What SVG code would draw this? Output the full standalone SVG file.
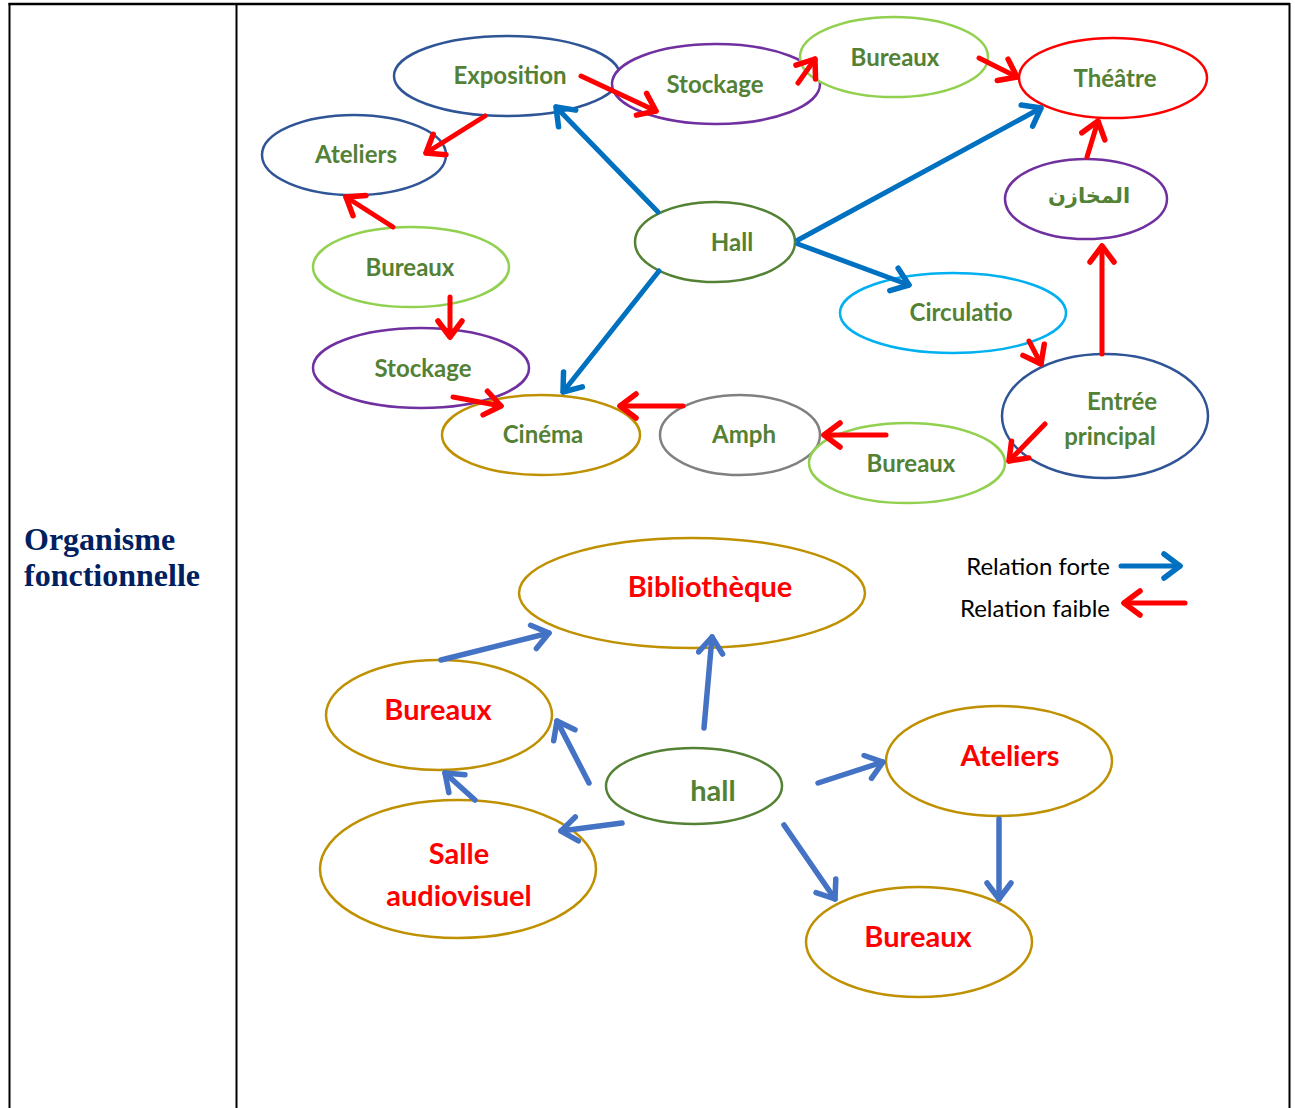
<svg xmlns="http://www.w3.org/2000/svg" width="1295" height="1108" viewBox="0 0 1295 1108">
  <style>
    .node ellipse { fill: #ffffff; stroke-width: 2.5; }
    .lbl { font-family: Lato, "Liberation Sans", sans-serif; font-weight: bold; text-anchor: middle; }
    .g { fill: #538135; font-size: 24px; }
    .r { fill: #ff0000; font-size: 29px; }
    .ar { font-family: "DejaVu Sans", "Noto Sans", sans-serif; font-weight: bold; fill: #538135; font-size: 21px; text-anchor: middle; }
    .legend { font-family: Lato, "Liberation Sans", sans-serif; font-size: 24px; fill: #000000; text-anchor: end; }
    .title { font-family: "Liberation Serif", serif; font-weight: bold; font-size: 32px; fill: #002060; }
    .weak { stroke: #ff0000; stroke-width: 5; fill: none; stroke-linecap: round; marker-end: url(#headRed); }
    .strong { stroke: #0070c0; stroke-width: 5; fill: none; stroke-linecap: round; marker-end: url(#headBlue); }
    .strong2 { stroke: #4472c4; stroke-width: 5.5; fill: none; stroke-linecap: round; marker-end: url(#headBlue2); }
    .navy { stroke: #2f5597; }
    .purple { stroke: #7030a0; }
    .lgreen { stroke: #92d050; }
    .red { stroke: #ff0000; }
    .dgreen { stroke: #548235; }
    .cyan { stroke: #00b0f0; }
    .gold { stroke: #bf9000; }
    .grey { stroke: #808080; }
  </style>
  <defs>
    <marker id="headRed" markerUnits="userSpaceOnUse" viewBox="-20 -15 24 30" refX="0" refY="0" markerWidth="24" markerHeight="30" orient="auto">
      <path d="M-16,-12 L0,0 L-16,12" fill="none" stroke="#ff0000" stroke-width="5.5" stroke-linecap="round" stroke-linejoin="round"/>
    </marker>
    <marker id="headBlue" markerUnits="userSpaceOnUse" viewBox="-20 -15 24 30" refX="0" refY="0" markerWidth="24" markerHeight="30" orient="auto">
      <path d="M-16,-12 L0,0 L-16,12" fill="none" stroke="#0070c0" stroke-width="5.5" stroke-linecap="round" stroke-linejoin="round"/>
    </marker>
    <marker id="headBlue2" markerUnits="userSpaceOnUse" viewBox="-20 -15 24 30" refX="0" refY="0" markerWidth="24" markerHeight="30" orient="auto">
      <path d="M-16,-12 L0,0 L-16,12" fill="none" stroke="#4472c4" stroke-width="5.5" stroke-linecap="round" stroke-linejoin="round"/>
    </marker>
  </defs>

  <rect width="1295" height="1108" fill="#ffffff"/>

  <!-- table frame -->
  <g id="table" stroke="#000000" fill="none">
    <line x1="8.5" y1="4" x2="1290" y2="4" stroke-width="2.5"/>
    <line x1="9.5" y1="3" x2="9.5" y2="1108" stroke-width="2"/>
    <line x1="236.5" y1="4" x2="236.5" y2="1108" stroke-width="2"/>
    <line x1="1289.5" y1="3" x2="1289.5" y2="1108" stroke-width="2"/>
  </g>
  <g id="title">
    <text class="title" x="24" y="550">Organisme</text>
    <text class="title" x="24" y="586">fonctionnelle</text>
  </g>

  <!-- upper scheme: nodes -->
  <g id="n-exposition" class="node"><ellipse class="navy" cx="507" cy="76" rx="113" ry="40"/><text class="lbl g" x="510" y="84">Exposition</text></g>
  <g id="n-stockage1" class="node"><ellipse class="purple" cx="716" cy="84" rx="104" ry="40"/><text class="lbl g" x="715" y="93">Stockage</text></g>
  <g id="n-bureaux1" class="node"><ellipse class="lgreen" cx="894" cy="57" rx="94" ry="40"/><text class="lbl g" x="895" y="66">Bureaux</text></g>
  <g id="n-theatre" class="node"><ellipse class="red" cx="1113" cy="78" rx="94" ry="40"/><text class="lbl g" x="1115" y="87">Théâtre</text></g>
  <g id="n-ateliers1" class="node"><ellipse class="navy" cx="354" cy="155" rx="92" ry="40"/><text class="lbl g" x="356" y="163">Ateliers</text></g>
  <g id="n-hall1" class="node"><ellipse class="dgreen" cx="715" cy="242" rx="80" ry="40"/><text class="lbl g" x="732" y="251">Hall</text></g>
  <g id="n-makhazin" class="node"><ellipse class="purple" cx="1086" cy="199" rx="81" ry="40"/><text class="ar" x="1089" y="203">المخازن</text></g>
  <g id="n-bureaux2" class="node"><ellipse class="lgreen" cx="411" cy="267" rx="98" ry="40"/><text class="lbl g" x="410" y="276">Bureaux</text></g>
  <g id="n-circulation" class="node"><ellipse class="cyan" cx="953" cy="313" rx="113" ry="40"/><text class="lbl g" x="961" y="321">Circulatio</text></g>
  <g id="n-stockage2" class="node"><ellipse class="purple" cx="421" cy="368" rx="108" ry="40"/><text class="lbl g" x="423" y="377">Stockage</text></g>
  <g id="n-cinema" class="node"><ellipse class="gold" cx="541" cy="435" rx="99" ry="40"/><text class="lbl g" x="543" y="443">Cinéma</text></g>
  <g id="n-amph" class="node"><ellipse class="grey" cx="740" cy="435" rx="80" ry="40"/><text class="lbl g" x="744" y="443">Amph</text></g>
  <g id="n-bureaux3" class="node"><ellipse class="lgreen" cx="907" cy="463" rx="98" ry="40"/><text class="lbl g" x="911" y="472">Bureaux</text></g>
  <g id="n-entree" class="node"><ellipse class="navy" cx="1105" cy="416" rx="103" ry="62"/><text class="lbl g" x="1122" y="410">Entrée</text><text class="lbl g" x="1110" y="445">principal</text></g>

  <!-- lower scheme: nodes -->
  <g id="n-bibliotheque" class="node"><ellipse class="gold" cx="692" cy="593" rx="173" ry="55"/><text class="lbl r" x="710" y="597">Bibliothèque</text></g>
  <g id="n-bureaux4" class="node"><ellipse class="gold" cx="439" cy="715" rx="113" ry="55"/><text class="lbl r" x="438" y="720">Bureaux</text></g>
  <g id="n-hall2" class="node"><ellipse class="dgreen" cx="694" cy="786" rx="88" ry="38"/><text class="lbl g" x="713" y="801" style="font-size:29px">hall</text></g>
  <g id="n-ateliers2" class="node"><ellipse class="gold" cx="999" cy="761" rx="113" ry="55"/><text class="lbl r" x="1010" y="766">Ateliers</text></g>
  <g id="n-salle" class="node"><ellipse class="gold" cx="458" cy="869" rx="138" ry="69"/><text class="lbl r" x="459" y="864">Salle</text><text class="lbl r" x="459" y="906">audiovisuel</text></g>
  <g id="n-bureaux5" class="node"><ellipse class="gold" cx="919" cy="942" rx="113" ry="55"/><text class="lbl r" x="918" y="947">Bureaux</text></g>

  <!-- connectors -->
  <g id="connectors">
    <!-- weak relations -->
    <line class="weak" x1="581" y1="76" x2="656" y2="111"/>
    <line class="weak" x1="798" y1="83" x2="815" y2="59"/>
    <line class="weak" x1="979" y1="58" x2="1017" y2="77"/>
    <line class="weak" x1="1087" y1="157" x2="1098" y2="121"/>
    <line class="weak" x1="1102" y1="354" x2="1102" y2="246"/>
    <line class="weak" x1="485" y1="116" x2="426" y2="153"/>
    <line class="weak" x1="393" y1="227" x2="346" y2="197"/>
    <line class="weak" x1="450" y1="297" x2="450" y2="337"/>
    <line class="weak" x1="453" y1="397" x2="501" y2="406"/>
    <line class="weak" x1="683" y1="406" x2="620" y2="406"/>
    <line class="weak" x1="886" y1="435" x2="824" y2="435"/>
    <line class="weak" x1="1029" y1="341" x2="1041" y2="364"/>
    <line class="weak" x1="1045" y1="424" x2="1009" y2="461"/>
    <!-- strong relations, upper scheme -->
    <line class="strong" x1="658" y1="212" x2="556" y2="107"/>
    <line class="strong" x1="798" y1="240" x2="1041" y2="108"/>
    <line class="strong" x1="798" y1="244" x2="909" y2="285"/>
    <line class="strong" x1="659" y1="271" x2="563" y2="392"/>
    <!-- strong relations, lower scheme -->
    <line class="strong2" x1="441" y1="660" x2="549" y2="633"/>
    <line class="strong2" x1="704" y1="728" x2="712" y2="637"/>
    <line class="strong2" x1="589" y1="783" x2="557" y2="721"/>
    <line class="strong2" x1="475" y1="800" x2="445" y2="773"/>
    <line class="strong2" x1="622" y1="823" x2="561" y2="831"/>
    <line class="strong2" x1="818" y1="783" x2="883" y2="762"/>
    <line class="strong2" x1="784" y1="825" x2="835" y2="899"/>
    <line class="strong2" x1="999" y1="819" x2="999" y2="899"/>
  </g>

  <!-- legend -->
  <g id="legend">
    <text class="legend" x="1110" y="575">Relation forte</text>
    <text class="legend" x="1110" y="617">Relation faible</text>
    <line class="strong" x1="1121" y1="566" x2="1180" y2="566"/>
    <line class="weak" x1="1185" y1="603" x2="1124" y2="603"/>
  </g>
</svg>
